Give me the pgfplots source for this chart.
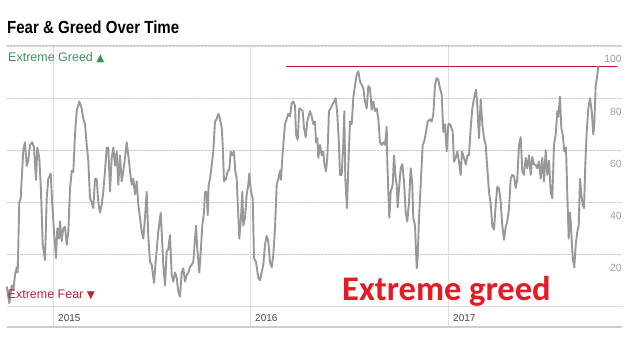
\documentclass[border=0pt]{standalone}
\usepackage{fontspec}
\setmainfont{Liberation Sans}
\newfontfamily\carlito{Carlito}
\newfontfamily\dejavu{DejaVu Sans}
\usepackage{pgfplots}
\pgfplotsset{compat=1.18}
\definecolor{linegray}{RGB}{152,152,152}
\definecolor{gridgray}{RGB}{200,200,200}
\definecolor{vgray}{RGB}{222,222,222}
\definecolor{axisgray}{RGB}{205,205,205}
\definecolor{ticktext}{RGB}{160,160,160}
\definecolor{yeartext}{RGB}{70,70,70}
\definecolor{greedgreen}{RGB}{58,150,88}
\definecolor{fearred}{RGB}{178,38,58}
\definecolor{refred}{RGB}{190,30,40}
\definecolor{bigred}{RGB}{228,26,36}
\begin{document}
\begin{tikzpicture}
\useasboundingbox (0,0) rectangle (633bp,337bp);
\begin{axis}[
  at={(7bp,30.7bp)}, anchor=south west,
  scale only axis, width=615bp, height=260.3bp,
  xmin=7, xmax=622, ymin=0, ymax=100,
  clip=false,
  axis line style={draw=none},
  major tick length=0pt,
  /pgf/number format/assume math mode=true,
  xtick={53,250,448}, xticklabels={2015,2016,2017},
  ytick={20,40,60,80,100},
  yticklabel pos=right,
  xmajorgrids, ymajorgrids,
  x grid style={vgray, line width=0.7bp},
  y grid style={gridgray, densely dotted, line width=0.7bp},
  yticklabel style={font=\fontsize{10.5bp}{12bp}\selectfont, text=ticktext, anchor=base east, inner sep=0pt, yshift=-17bp},
  xticklabel style={font=\fontsize{10bp}{12bp}\selectfont, text=yeartext, anchor=base west, inner sep=0pt, xshift=5bp, yshift=-14.7bp},
]
\draw[vgray, line width=0.7bp] (axis cs:53,0) -- (axis cs:53,-8);
\draw[vgray, line width=0.7bp] (axis cs:250,0) -- (axis cs:250,-8);
\draw[vgray, line width=0.7bp] (axis cs:448,0) -- (axis cs:448,-8);
\addplot[axisgray, line width=1bp] coordinates {(7,100) (622,100)};
\addplot[axisgray!70, line width=0.6bp] coordinates {(7,0) (622,0)};
\addplot[axisgray, line width=2bp] coordinates {(7,-8) (622,-8)};
\addplot[refred, line width=1bp] coordinates {(286,92.2) (617,92.2)};
\addplot[linegray, line width=1.9bp, line join=round] coordinates {
(6.7,7.6) (9.3,1.2) (11.7,8) (13.3,6) (15,12) (16.7,15) (17.7,13) (19.3,40) (20.7,41.5) (21.7,49)
(23.3,60) (25,63) (26.7,54) (28.3,56) (30,62) (32.3,63) (34,61) (36,48.6) (37.3,61) (39.3,57)
(40.7,46.7) (41.7,36) (42.7,23.6) (45,17.8) (46.7,41.5) (48.3,49) (50.7,51) (52.3,39) (54,28.7) (56,18.5)
(57.3,30) (59,26) (60,32.6) (61.7,25) (63.3,30) (65,30.6) (66.7,23.6) (68.3,28.7) (70,45) (71.7,52)
(73.3,51.5) (75,66) (76.7,75) (79.3,78.7) (81.7,76) (83.3,72) (85,70) (86.7,62) (88.3,56) (90,41.5)
(91.7,40) (93.3,37.7) (95,49) (96.7,49) (98.3,40) (100,36) (101.7,39) (103.3,44) (105,52) (106.7,61)
(108.3,61) (110,44) (111.7,57) (113.3,61) (115,54) (116.7,59.5) (118.3,46.7) (120,58) (121.7,48) (123.3,52)
(125,57) (126.7,63) (128.3,58) (130,52) (131.7,46.7) (133.3,49) (135,43) (136.7,48) (138.3,39) (140,34)
(141.7,28.7) (143.3,26) (145,34) (146.7,44) (148.3,27)
(150,17) (151.7,16) (154,9) (156,18.5) (158.3,28.7) (160.7,36) (161.7,28.7) (163.3,16) (165,8) (166.7,21)
(168.3,22) (170,27.4) (171.7,12) (173.3,9.5) (175,13) (176.7,11) (178.3,5.6) (180,3.7) (181.7,13) (183.3,14.6)
(185,9.5) (186.7,12) (188.3,13) (190,15) (191.7,16) (193.3,17) (195,26) (196,31) (197.3,22) (199.3,13)
(200.7,21) (202.3,31) (204,36) (205,44) (206.7,44) (207.7,35) (208.7,46.7) (210,49) (211.7,54) (213.3,59.5)
(215,71) (216.7,72) (218.3,74) (220,72) (221.7,68.5) (222.7,62) (224,48) (226,49) (227.7,52) (229.3,52.4)
(230.7,59.5) (232.3,58) (234,59.5) (235.3,51.8) (236.7,49) (238.3,35) (239.3,26) (241,34) (242.3,44) (243.3,31)
(245,34) (246.7,43) (248.3,46.7) (249.3,51) (251,44) (252.7,41.5) (254,18.5) (256,17) (258.3,11) (260,10)
(261.7,13) (263.3,16) (265,23.6) (266.7,27) (268.3,25) (270,17) (271.7,15) (273.3,19.7) (275,30) (276.7,46.7)
(278.3,49) (280,52) (281,48.6) (282.3,57) (283.3,62) (285,70) (286.7,72) (288.3,74) (290,73) (291.7,78)
(293.3,78.7) (295,77) (296,66) (297.7,64) (299.3,76)
(300,76) (302.7,75) (304,68.5) (305.7,65) (307.3,71) (310,75) (311.7,73) (313.3,70) (315,71) (316,63)
(317.3,64.6) (318.3,57) (320,62) (321.7,58) (323.3,59.5) (324.3,55) (326,51.8) (327.3,57) (329,75) (330.7,76)
(332.3,77.4) (334,78.7) (335.7,80) (337.3,73.6) (338.7,64.6) (340,50.5) (341.7,50.5) (343.3,63) (344.3,75) (345.3,49)
(347,37.7) (348.7,58) (350,71) (351.7,70) (353.3,80) (355,85) (356.7,89) (358.3,90.3) (360,86.4) (361.7,85)
(363.3,83.8) (365,78.7) (366.7,76) (368.3,84.6) (370,83.8) (371.7,75.5) (373.3,78.7) (375,75) (376.7,76) (378.3,72)
(380,63) (381.7,62) (383.3,63) (385,62) (386.7,69) (387.3,55.6) (388.3,44) (389.3,34) (390.7,44) (392.7,46.7)
(394,58) (395.7,49) (396.7,46.7) (397.7,38) (399,45) (400.7,53) (402.3,54.6) (404,48) (405.7,36) (407.3,32.6)
(409,40) (410.7,53) (412.3,46.7) (413.3,34) (415,31) (416.7,14.6) (417.7,18.5) (419,34) (420.7,46.7) (422.7,62)
(424,63) (426,67) (427.7,71) (430,71.8) (431.7,71) (433.3,73.6) (435,85) (436.7,87.7) (438.3,87) (440,83.8)
(441.7,81.3) (443.3,67) (445,70) (446.7,59.5) (448.3,70)
(450,70) (452.7,67) (454,55.6) (455.7,57) (457.3,59.5) (459,55.6) (460.7,50.5) (462,59.5) (464,57) (466,54.4)
(467.3,58) (469,58) (470.7,68.5) (472.3,76) (474,80) (476,83.2) (477.3,77) (479,64.6) (480.7,79.5) (482.3,70)
(484,64.6) (485.7,62) (487.3,53) (489,44) (490.7,39) (492.3,31) (494,29.4) (495.7,39) (497.3,46) (499,45.4)
(500.7,40) (502.3,31) (504,25.5) (505.7,30.6) (507.3,32.6) (509,37.7) (510.7,49) (512.3,50.5) (514,50) (515.7,45.4)
(517.3,49) (519,62) (520.7,65) (522.3,51.8) (524,50.5) (525.7,57) (527.3,53) (529,58) (530.7,50.5) (532.3,57.4)
(534,54.4) (535.7,54.4) (537.3,53) (539,55.6) (540.7,49) (542.3,57) (544,48) (545.7,60) (547.3,50.5) (549,56)
(550.7,44) (552.3,41.5) (554,62) (555.7,66) (557.3,75) (558.3,72.8) (560,80.6) (561.3,68.5) (562.7,66) (564.3,59.5)
(566,61) (567.3,43) (568.7,26) (570,36) (571.3,28.7) (572.7,18.5) (574.3,15) (575.7,23.6) (577.3,28.7) (578.7,31)
(580,49) (581.3,43) (582.7,39) (584,37.7) (585.3,54.4) (586.7,67) (588.3,76) (590,80) (591.7,75) (593.3,66)
(594.3,70) (595.7,85) (597,87.7) (598.3,92.2)
};
\end{axis}
\node[anchor=base west, inner sep=0pt, xscale=0.86, font=\fontsize{17.5bp}{20bp}\selectfont\bfseries] at (7bp,303.7bp) {Fear \& Greed Over Time};
\node[anchor=base west, inner sep=0pt, text=greedgreen, font=\fontsize{12.5bp}{14bp}\selectfont] at (8bp,275.3bp) {Extreme Greed {\dejavu\fontsize{10.5bp}{10bp}\selectfont ▲}};
\node[anchor=base west, inner sep=0pt, text=fearred, font=\fontsize{12.5bp}{14bp}\selectfont] at (7.5bp,38.3bp) {Extreme Fear {\dejavu\fontsize{10.5bp}{10bp}\selectfont ▼}};
\node[anchor=base west, inner sep=0pt, text=bigred, font=\carlito\bfseries\fontsize{34.5bp}{40bp}\selectfont] at (342bp,37bp) {Extreme greed};
\end{tikzpicture}
\end{document}
